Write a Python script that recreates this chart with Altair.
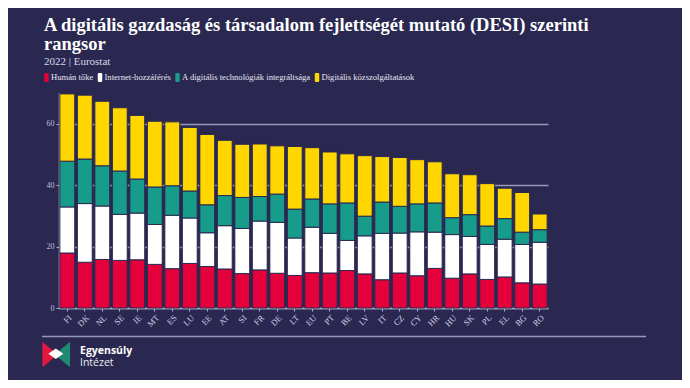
import altair as alt
import pandas as pd

countries = ["FI", "DK", "NL", "SE", "IE", "MT", "ES", "LU", "EE", "AT", "SI", "FR", "DE", "LT",
             "EU", "PT", "BE", "LV", "IT", "CZ", "CY", "HR", "HU", "SK", "PL", "EL", "BG", "RO"]
series = ["Humán tőke", "Internet-hozzáférés", "A digitális technológiák integráltsága",
          "Digitális közszolgáltatások"]
human = [17.9, 14.9, 15.8, 15.5, 15.7, 14.2, 12.8, 14.5, 13.5, 12.7, 11.2, 12.4, 11.3, 10.6,
         11.5, 11.4, 12.2, 11.1, 9.2, 11.4, 10.5, 12.9, 9.7, 11.1, 9.3, 10.1, 8.2, 7.8]
internet = [15.0, 19.1, 17.4, 15.0, 15.2, 13.0, 17.4, 14.8, 11.0, 14.1, 14.7, 15.9, 16.6, 12.2,
            14.8, 12.9, 9.8, 12.4, 15.1, 13.0, 14.3, 11.8, 14.2, 12.2, 11.4, 12.3, 12.5, 13.6]
integration = [14.9, 14.5, 13.1, 14.1, 11.1, 12.2, 9.6, 8.8, 9.1, 9.8, 10.1, 8.0, 9.2, 9.4,
               9.2, 9.6, 12.2, 6.4, 10.2, 8.7, 9.1, 9.5, 5.5, 7.1, 6.0, 6.7, 4.0, 4.1]
public = [21.9, 20.8, 21.0, 20.6, 20.7, 21.4, 20.8, 20.7, 22.9, 18.0, 17.3, 17.1, 15.7, 20.4,
          16.7, 16.9, 16.0, 19.7, 14.8, 15.9, 14.4, 13.4, 14.3, 13.0, 13.8, 9.9, 12.9, 5.1]
y_ticks = [0, 20, 40, 60]

colors = ["#e4003a", "#ffffff", "#179b8b", "#ffd600"]
BG = "#2a2850"
SERIF = "Liberation Serif"

rows = []
for vals, name, k in zip([human, internet, integration, public], series, range(4)):
    for c, v in zip(countries, vals):
        rows.append({"country": c, "series": name, "k": k, "value": v})
df = pd.DataFrame(rows)

legend_shape = ("M-0.5,-0.75 Q-0.5,-1 -0.25,-1 L0.25,-1 Q0.5,-1 0.5,-0.75 L0.5,0.75 "
                "Q0.5,1 0.25,1 L-0.25,1 Q-0.5,1 -0.5,0.75 Z")

bars = alt.Chart(df).mark_bar(stroke=BG, strokeWidth=1).encode(
    x=alt.X("country:N", sort=countries, title=None,
            scale=alt.Scale(paddingInner=0.15, paddingOuter=0.05),
            axis=alt.Axis(labelAngle=-45, labelFont=SERIF, labelFontSize=8.5,
                          labelColor="#d8d6ee", tickSize=3, tickColor="#b0aecc",
                          domainColor="#b0aecc", domainWidth=1.5, labelPadding=2)),
    y=alt.Y("value:Q", stack="zero", title=None,
            scale=alt.Scale(domain=[0, 70], nice=False),
            axis=alt.Axis(values=y_ticks, labelFont=SERIF, labelFontSize=8,
                          labelColor="#c0bedc", tickSize=3, tickColor="#b0aecc",
                          domainColor="#b0aecc", domainWidth=1.5, gridColor="#9896bb",
                          gridWidth=1.5, labelPadding=2)),
    color=alt.Color("series:N", sort=series,
                    scale=alt.Scale(domain=series, range=colors),
                    legend=alt.Legend(orient="none", legendX=-17, legendY=-20.5,
                                      direction="horizontal", title=None,
                                      symbolType=legend_shape, symbolSize=81,
                                      symbolStrokeWidth=0, labelFont=SERIF,
                                      labelFontSize=8.6, labelColor="#e6e6f2",
                                      labelOffset=0, columnPadding=1.5, padding=0)),
    order=alt.Order("k:Q", sort="ascending"),
)

rule = alt.Chart(pd.DataFrame({"a": [0]})).mark_rule(color="#9896bb", strokeWidth=1.5).encode(
    x=alt.value(-17), x2=alt.value(587), y=alt.value(243.6))

logo_red = alt.Chart(pd.DataFrame({"a": [0]})).mark_point(
    shape="M-1,-0.92 L0.12,0 L-1,0.92 Z", filled=True, size=767, color="#e2183f", opacity=1
).encode(x=alt.value(-2.8), y=alt.value(261.6))
logo_green = alt.Chart(pd.DataFrame({"a": [0]})).mark_point(
    shape="M1,-0.92 L-0.12,0 L1,0.92 Z", filled=True, size=767, color="#1f8a70", opacity=1
).encode(x=alt.value(-2.8), y=alt.value(261.6))
logo_white = alt.Chart(pd.DataFrame({"a": [0]})).mark_point(
    shape="M-0.54,0 L0,-0.38 L0.54,0 L0,0.38 Z", filled=True, size=767, color="#ffffff", opacity=1
).encode(x=alt.value(-3.2), y=alt.value(260.8))

brand = pd.DataFrame({"t": ["Egyensúly"]})
brand2 = pd.DataFrame({"t": ["Intézet"]})
logo_t1 = alt.Chart(brand).mark_text(align="left", baseline="alphabetic", font="Open Sans",
                                     fontWeight="bold", fontSize=10.5, color="#ffffff").encode(
    text="t:N", x=alt.value(21), y=alt.value(260.5))
logo_t2 = alt.Chart(brand2).mark_text(align="left", baseline="alphabetic", font="Open Sans",
                                      fontSize=10.5, color="#e8e8f2").encode(
    text="t:N", x=alt.value(21), y=alt.value(273))

chart = alt.layer(bars, rule, logo_red, logo_green, logo_white, logo_t1, logo_t2).properties(
    width=489, height=215,
    autosize=alt.AutoSizeParams(type="none"),
    padding={"left": 51, "top": 85, "right": 134, "bottom": 72},
    background=BG,
    title=alt.TitleParams(
        text=["A digitális gazdaság és társadalom fejlettségét mutató (DESI) szerinti", "rangsor"],
        subtitle="2022 | Eurostat",
        anchor="start", frame="group", dx=-15, offset=6,
        font=SERIF, fontSize=18.5, fontWeight="bold", color="#ffffff", lineHeight=19,
        subtitleFont=SERIF, subtitleFontSize=11, subtitleColor="#d8d8e8",
        subtitlePadding=2.5),
).configure_view(stroke=None)

chart.save("out.html", embed_options={"renderer": "svg", "actions": False})
